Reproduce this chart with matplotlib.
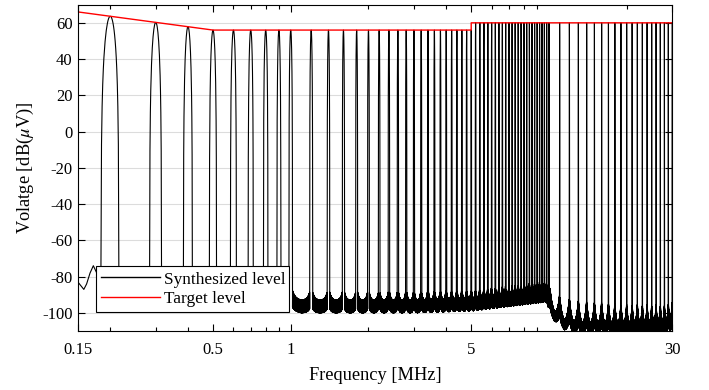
import numpy as np
import matplotlib.pyplot as plt
from matplotlib.ticker import FixedLocator, NullFormatter, LogLocator

plt.rcParams['font.family'] = ['Liberation Serif', 'DejaVu Serif']
plt.rcParams['mathtext.fontset'] = 'stix'
plt.rcParams['axes.unicode_minus'] = False
plt.rcParams['font.size'] = 12

# synthesized tones [MHz] and their peak levels [dB(uV)]
tones_a = [0.2, 0.3, 0.4, 0.5, 0.6, 0.7, 0.8, 0.9, 1.0]
tones_b = [1.2, 1.4, 1.6, 1.8, 2.0, 2.2, 2.4, 2.6, 2.8, 3.0,
           3.2, 3.4, 3.6, 3.8, 4.0, 4.2, 4.4, 4.6, 4.8, 5.0]
tones_c = [5.2, 5.4, 5.6, 5.8, 6.0, 6.2, 6.4, 6.6, 6.8, 7.0,
           7.2, 7.4, 7.6, 7.8, 8.0, 8.2, 8.4, 8.6, 8.8, 9.0,
           9.2, 9.4, 9.6, 9.8, 10.0]
tones_d = [11, 12, 13, 14, 15, 16, 17, 18, 19, 20,
           21, 22, 23, 24, 25, 26, 27, 28, 29, 30]

peaks_a = [63.6, 60.2, 57.9, 56, 56, 56, 56, 56, 56]
peaks_b = [56] * 20
peaks_c = [60] * 25
peaks_d = [60] * 20

# target (limit) line
limit_f = [0.15, 0.5, 5, 5, 30]
limit_db = [66, 56, 56, 60, 60]

# noise floor, upper / lower edge of the band
floor_f = [0.15, 0.155, 0.158, 0.162, 0.167, 0.172, 0.18, 0.9, 1.0, 1.1,
           3.0, 5.0, 7.5, 9.8, 10.2, 11, 13, 20, 28, 30]
floor_top = [-83, -85.5, -87, -84, -78, -74, -80, -86, -92, -93,
             -93, -92, -89, -87, -98, -105, -107, -107, -106, -104]
floor_bot = [-83, -85.5, -87, -84, -78, -74, -80, -92, -99, -100,
             -100, -99, -96, -94, -103, -109, -113, -113, -112, -110]
# rise of the floor next to each tone
skirt_f = [0.15, 1.0, 9.9, 10.2, 15, 30]
skirt_db = [0, 9, 9, 16, 14, 11]

lobe_w = 0.016  # MHz, half width of a tone's main lobe

tones = np.array(tones_a + tones_b + tones_c + tones_d, dtype=float)
peaks = np.array(peaks_a + peaks_b + peaks_c + peaks_d, dtype=float)

f = np.union1d(np.arange(0.15, 30.0005, 0.001), tones)
lf = np.log10(f)

top = np.interp(lf, np.log10(floor_f), floor_top)
bot = np.interp(lf, np.log10(floor_f), floor_bot)

# distance to the nearest tone, relative to local tone spacing
idx = np.clip(np.searchsorted(tones, f), 1, len(tones) - 1)
left, right = tones[idx - 1], tones[idx]
spacing = right - left
dist = np.minimum(np.abs(f - left), np.abs(right - f))
rise = np.interp(lf, np.log10(skirt_f), skirt_db)
decay = np.where(f > 10.1, 0.22, 0.12) * spacing
bump = rise * np.exp(-dist / decay)
top = top + bump
bot = bot + 0.5 * bump
top = np.maximum(top, bot)

floor = np.where(np.arange(len(f)) % 2 == 0, top, bot)

lobes = np.full_like(f, -400.0)
for t, p in zip(tones, peaks):
    m = np.abs(f - t) < lobe_w
    u = np.abs(f[m] - t) / lobe_w
    lobes[m] = np.maximum(lobes[m], p + 70 * np.log10(np.cos(np.pi / 2 * u) + 1e-12))

trace = np.maximum(lobes, floor)

fig = plt.figure(figsize=(7.09, 3.9), dpi=100)
ax = fig.add_axes([0.110, 0.151, 0.838, 0.837])

ax.plot(f, trace, color='black', lw=0.8, label='Synthesized level')
ax.plot(limit_f, limit_db, color='red', lw=1.0, label='Target level')

ax.set_xscale('log')
ax.set_xlim(0.15, 30)
ax.set_ylim(-110, 70)
ax.xaxis.set_major_locator(FixedLocator([0.15, 0.5, 1, 5, 30]))
ax.set_xticklabels(['0.15', '0.5', '1', '5', '30'])
ax.xaxis.set_minor_locator(LogLocator(base=10, subs=np.arange(2, 10)))
ax.xaxis.set_minor_formatter(NullFormatter())
ax.set_yticks(np.arange(-100, 61, 20))

ax.tick_params(which='both', direction='in', top=True, right=True, width=0.8)
ax.tick_params(which='major', length=5)
ax.tick_params(which='minor', length=3)
ax.tick_params(axis='x', pad=8)
ax.tick_params(axis='y', pad=4)
ax.yaxis.grid(True, color='#dcdcdc', lw=0.8)
ax.set_axisbelow(True)
for s in ax.spines.values():
    s.set_linewidth(0.8)

ax.set_xlabel('Frequency [MHz]', fontsize=13.2, labelpad=6)
ax.set_ylabel(r'Volatge [dB($\mu$V)]', fontsize=13.2, labelpad=4)

leg = ax.legend(loc='lower left', bbox_to_anchor=(0.030, 0.058, 0.325, 0.141),
                mode='expand', fancybox=False, framealpha=1, edgecolor='black',
                handlelength=3.4, handletextpad=0.25, labelspacing=0.2,
                borderaxespad=0, borderpad=0.3, fontsize=12.4)
leg.get_frame().set_linewidth(0.8)
for h in leg.get_lines():
    h.set_linewidth(1.0)

fig.savefig('out.png', dpi=100)
